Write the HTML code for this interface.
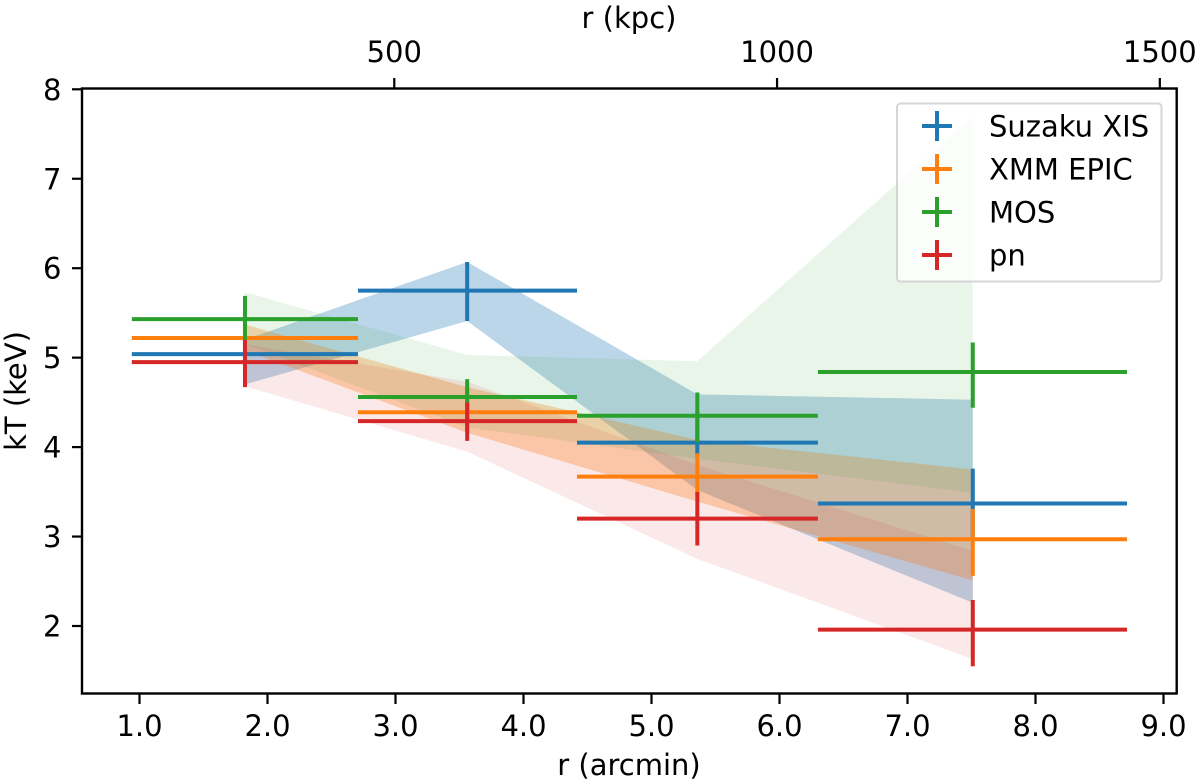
<!DOCTYPE html>
<html lang="en">
<head>
<meta charset="utf-8">
<title>kT versus radius</title>
<style>
html,body{margin:0;padding:0;background:#fff;width:1200px;height:784px;overflow:hidden}
svg{display:block}
text{font-family:"DejaVu Sans","Liberation Sans",sans-serif;font-size:29px;fill:#000}
</style>
</head>
<body>
<svg id="chart" xmlns="http://www.w3.org/2000/svg" width="1200" height="784" viewBox="0 0 1200 784">
  <rect x="82" y="88.5" width="1094.7" height="605" fill="#fff"/>
  <g id="bands"></g>
  <g id="errorbars"></g>
  <rect x="82" y="88.5" width="1094.7" height="605" fill="none" stroke="#000" stroke-width="2.4"/>
  <g id="ticks"></g>
  <text x="629" y="28" text-anchor="middle">r (kpc)</text>
  <text x="629" y="775" text-anchor="middle">r (arcmin)</text>
  <text transform="translate(26,391) rotate(-90)" text-anchor="middle">kT (keV)</text>
  <g>
    <rect x="897" y="103.5" width="264.5" height="178" rx="3.5" fill="#fff" fill-opacity="0.8" stroke="#ccc" stroke-opacity="0.8" stroke-width="2"/>
    <g>
      <path d="M922 126H952M937 111V141" stroke="#1f77b4" stroke-width="4" fill="none"/>
      <text x="989" y="136.5">Suzaku XIS</text>
    </g>
    <g>
      <path d="M922 169H952M937 154V184" stroke="#ff7f0e" stroke-width="4" fill="none"/>
      <text x="989" y="179.5">XMM EPIC</text>
    </g>
    <g>
      <path d="M922 212H952M937 197V227" stroke="#2ca02c" stroke-width="4" fill="none"/>
      <text x="989" y="222.5">MOS</text>
    </g>
    <g>
      <path d="M922 255H952M937 240V270" stroke="#d62728" stroke-width="4" fill="none"/>
      <text x="989" y="265.5">pn</text>
    </g>
  </g>
</svg>
<script>
// Radial bins (arcmin)
const radius = [1.824, 3.56, 5.358, 7.51];
const radiusLow = [0.94, 2.707, 4.418, 6.30];
const radiusHigh = [2.707, 4.418, 6.30, 8.715];

// Tick labels
const xTicks = [1.0, 2.0, 3.0, 4.0, 5.0, 6.0, 7.0, 8.0, 9.0];
const yTicks = [2, 3, 4, 5, 6, 7, 8];
const kpcTicks = [500, 1000, 1500];
const kpcPerArcmin = 167.2;

// Measured temperature and error bars (keV)
const suzakuKT = [5.04, 5.75, 4.05, 3.37];
const suzakuHi = [5.20, 6.07, 4.40, 3.76];
const suzakuLo = [4.85, 5.41, 3.90, 3.00];
const epicKT = [5.22, 4.39, 3.67, 2.97];
const epicHi = [5.37, 4.67, 3.93, 3.31];
const epicLo = [5.08, 4.16, 3.46, 2.56];
const mosKT = [5.43, 4.56, 4.35, 4.84];
const mosHi = [5.69, 4.76, 4.61, 5.17];
const mosLo = [5.20, 4.30, 4.05, 4.44];
const pnKT = [4.95, 4.29, 3.20, 1.96];
const pnHi = [5.20, 4.50, 3.50, 2.29];
const pnLo = [4.67, 4.07, 2.90, 1.55];

// Shaded band limits (keV)
const suzakuBandHi = [5.20, 6.07, 4.59, 4.53];
const suzakuBandLo = [4.70, 5.41, 3.52, 2.26];
const epicBandHi = [5.37, 4.67, 4.08, 3.75];
const epicBandLo = [5.08, 4.16, 3.39, 2.51];
const mosBandHi = [5.73, 5.03, 4.96, 7.70];
const mosBandLo = [5.15, 4.22, 3.87, 3.49];
const pnBandHi = [5.15, 4.73, 3.80, 2.84];
const pnBandLo = [4.68, 3.95, 2.75, 1.63];

const NS = 'http://www.w3.org/2000/svg';
function xScale(v) { return 139.5 + (v - 1) * 128; }
function yScale(v) { return 626 - (v - 2) * 89.45; }
function make(tag, parent, attrs) {
  const el = document.createElementNS(NS, tag);
  for (const k in attrs) el.setAttribute(k, attrs[k]);
  parent.appendChild(el);
  return el;
}

const seriesList = [
  { key: 'suzaku', color: '#1f77b4', alpha: 0.3, kt: suzakuKT, hi: suzakuHi, lo: suzakuLo, bandHi: suzakuBandHi, bandLo: suzakuBandLo },
  { key: 'epic', color: '#ff7f0e', alpha: 0.3, kt: epicKT, hi: epicHi, lo: epicLo, bandHi: epicBandHi, bandLo: epicBandLo },
  { key: 'mos', color: '#2ca02c', alpha: 0.1, kt: mosKT, hi: mosHi, lo: mosLo, bandHi: mosBandHi, bandLo: mosBandLo },
  { key: 'pn', color: '#d62728', alpha: 0.1, kt: pnKT, hi: pnHi, lo: pnLo, bandHi: pnBandHi, bandLo: pnBandLo }
];

const bandsG = document.getElementById('bands');
const barsG = document.getElementById('errorbars');

seriesList.forEach(function (s) {
  const upper = radius.map(function (r, i) { return xScale(r) + ',' + yScale(s.bandHi[i]); });
  const lower = radius.map(function (r, i) { return xScale(r) + ',' + yScale(s.bandLo[i]); }).reverse();
  const band = make('polygon', bandsG, { points: upper.concat(lower).join(' '), fill: s.color, 'fill-opacity': s.alpha });
  
  
});

seriesList.forEach(function (s) {
  radius.forEach(function (r, i) {
    const d = 'M' + xScale(radiusLow[i]) + ' ' + yScale(s.kt[i]) + 'H' + xScale(radiusHigh[i]) +
              'M' + xScale(r) + ' ' + yScale(s.hi[i]) + 'V' + yScale(s.lo[i]);
    const bar = make('path', barsG, { d: d, stroke: s.color, 'stroke-width': 4, fill: 'none' });
    
    
  });
});

const ticksG = document.getElementById('ticks');
const tickStyle = { stroke: '#000', 'stroke-width': 2.2 };

xTicks.forEach(function (v) {
  const x = xScale(v);
  const t = make('line', ticksG, Object.assign({ x1: x, x2: x, y1: 693.5, y2: 704 }, tickStyle));
  
  
  const l = make('text', ticksG, { x: x, y: 736, 'text-anchor': 'middle' });
  
  
  l.textContent = v.toFixed(1);
});

yTicks.forEach(function (v) {
  const y = yScale(v);
  const t = make('line', ticksG, Object.assign({ x1: 72, x2: 82, y1: y, y2: y }, tickStyle));
  
  
  const l = make('text', ticksG, { x: 61.5, y: y + 10.5, 'text-anchor': 'end' });
  
  
  l.textContent = String(v);
});

kpcTicks.forEach(function (v) {
  const x = xScale(v / kpcPerArcmin);
  const t = make('line', ticksG, Object.assign({ x1: x, x2: x, y1: 78, y2: 88.5 }, tickStyle));
  
  
  const l = make('text', ticksG, { x: x, y: 62, 'text-anchor': 'middle' });
  
  
  l.textContent = String(v);
});
</script>
</body>
</html>
